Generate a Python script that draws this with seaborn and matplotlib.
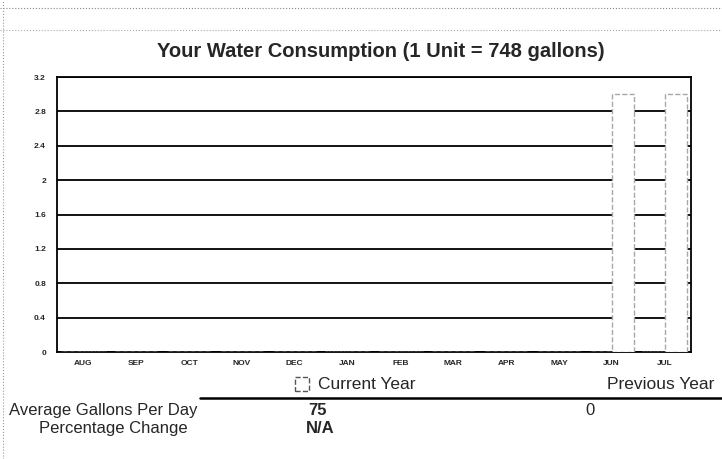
import pandas as pd
import matplotlib.pyplot as plt
import matplotlib.patches as mpatches
import seaborn as sns

# Data
months = ["AUG", "SEP", "OCT", "NOV", "DEC", "JAN", "FEB", "MAR", "APR", "MAY", "JUN", "JUL"]
current_year = [0, 0, 0, 0, 0, 0, 0, 0, 0, 0, 3, 3]
previous_year = [0, 0, 0, 0, 0, 0, 0, 0, 0, 0, 0, 0]
y_ticks = [0, 0.4, 0.8, 1.2, 1.6, 2, 2.4, 2.8, 3.2]
y_tick_labels = ["0", "0.4", "0.8", "1.2", "1.6", "2", "2.4", "2.8", "3.2"]
avg_current = "75"
avg_previous = "0"
pct_change = "N/A"

df = pd.DataFrame({
    "month": months * 2,
    "units": previous_year + current_year,
    "year": ["Previous Year"] * 12 + ["Current Year"] * 12,
})

sns.set_style("white")
plt.rcParams["font.family"] = ["Liberation Sans", "DejaVu Sans"]

fig = plt.figure(figsize=(7.22, 4.59), dpi=100)
ax = fig.add_axes([0.079, 0.233, 0.878, 0.599])

sns.barplot(
    data=df,
    x="month",
    y="units",
    hue="year",
    order=months,
    hue_order=["Previous Year", "Current Year"],
    palette=["white", "white"],
    edgecolor="#a8a8a8",
    linewidth=1.0,
    linestyle="--",
    width=0.84,
    legend=False,
    zorder=3,
    ax=ax,
)

ax.set_ylim(0, 3.2)
ax.set_xlim(-0.5, 11.5)
ax.set_yticks(y_ticks)
ax.set_yticklabels(y_tick_labels, fontsize=6, fontweight="bold")
ax.set_xticks(range(len(months)))
ax.set_xticklabels(months, fontsize=6, fontweight="bold")
ax.tick_params(axis="x", length=0, pad=6)
ax.tick_params(axis="y", length=0, pad=8)
ax.set_xlabel("")
ax.set_ylabel("")

ax.yaxis.grid(True, color="black", linewidth=1.3, zorder=1)
ax.set_axisbelow(True)
for side in ["top", "right", "bottom", "left"]:
    ax.spines[side].set_visible(True)
    ax.spines[side].set_color("black")
    ax.spines[side].set_linewidth(1.3)

# Title
fig.text(0.527, 0.888, "Your Water Consumption (1 Unit = 748 gallons)",
         ha="center", va="center", fontsize=14.5, fontweight="bold")

# Scanned header band
fig.add_artist(plt.Line2D([0.0, 1.0], [0.982, 0.982], color="#888888",
                          linewidth=0.8, linestyle=":"))
fig.add_artist(plt.Line2D([0.0, 1.0], [0.935, 0.935], color="#aaaaaa",
                          linewidth=0.8, linestyle=":"))
fig.add_artist(plt.Line2D([0.004, 0.004], [0.0, 1.0], color="#999999",
                          linewidth=0.8, linestyle=":"))

# Legend / summary table below the chart
fig.add_artist(mpatches.Rectangle((0.409, 0.148), 0.019, 0.031, facecolor="white",
                                  edgecolor="#555555", linewidth=1.0, linestyle="--"))
fig.text(0.440, 0.163, "Current Year", ha="left", va="center", fontsize=12.5)
fig.text(0.990, 0.163, "Previous Year", ha="right", va="center", fontsize=12.5)
fig.add_artist(plt.Line2D([0.277, 1.0], [0.133, 0.133], color="black", linewidth=1.8))

fig.text(0.274, 0.106, "Average Gallons Per Day", ha="right", va="center", fontsize=12)
fig.text(0.440, 0.106, avg_current, ha="center", va="center", fontsize=12, fontweight="bold")
fig.text(0.817, 0.106, avg_previous, ha="center", va="center", fontsize=12)
fig.text(0.260, 0.067, "Percentage Change", ha="right", va="center", fontsize=12)
fig.text(0.443, 0.067, pct_change, ha="center", va="center", fontsize=12, fontweight="bold")

fig.savefig("out.png", dpi=100)
